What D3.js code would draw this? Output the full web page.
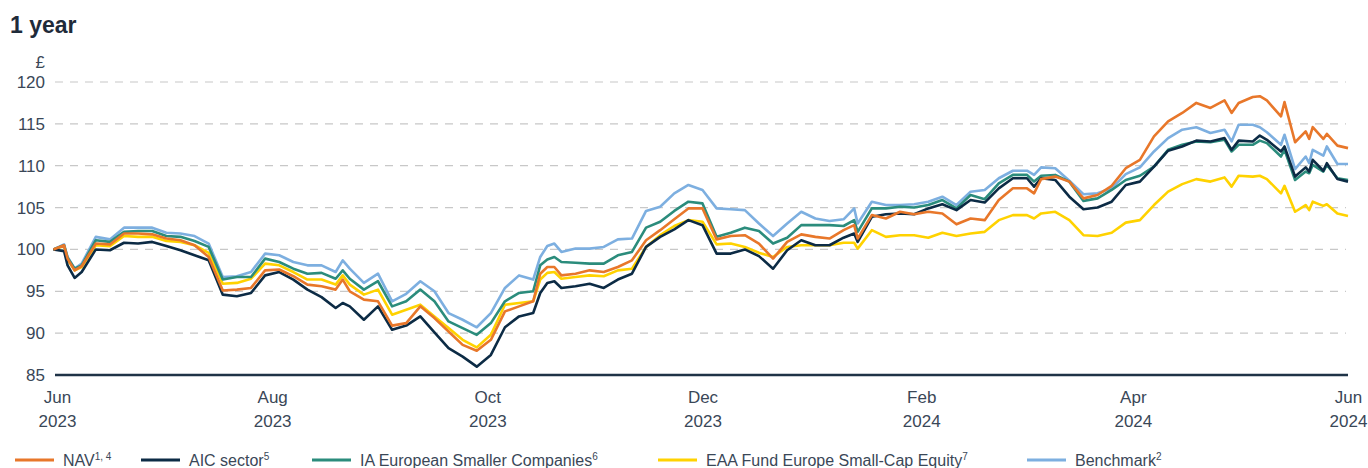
<!DOCTYPE html>
<meta charset="utf-8">
<style>
body { margin: 0; background: #ffffff; }
svg text { font-family: "Liberation Sans", Arial, sans-serif; fill: #3a4757; }
</style>
<script src="https://d3js.org/d3.v7.min.js"></script>
<div id="chart"></div>
<script>
// sample dates
var dates = ["2023-05-31","2023-06-03","2023-06-04","2023-06-06","2023-06-08","2023-06-12","2023-06-16","2023-06-20","2023-06-24","2023-06-28",
  "2023-07-02","2023-07-06","2023-07-10","2023-07-14","2023-07-18","2023-07-22","2023-07-26","2023-07-30","2023-08-03","2023-08-07",
  "2023-08-11","2023-08-15","2023-08-19","2023-08-21","2023-08-23","2023-08-27","2023-08-31","2023-09-04","2023-09-08","2023-09-12",
  "2023-09-16","2023-09-20","2023-09-24","2023-09-28","2023-10-02","2023-10-06","2023-10-10","2023-10-14","2023-10-16","2023-10-18",
  "2023-10-20","2023-10-22","2023-10-26","2023-10-30","2023-11-03","2023-11-07","2023-11-11","2023-11-15","2023-11-19","2023-11-23",
  "2023-11-27","2023-12-01","2023-12-05","2023-12-09","2023-12-13","2023-12-17","2023-12-21","2023-12-25","2023-12-29","2024-01-02",
  "2024-01-06","2024-01-10","2024-01-13","2024-01-14","2024-01-18","2024-01-22","2024-01-26","2024-01-30","2024-02-03","2024-02-07",
  "2024-02-11","2024-02-15","2024-02-19","2024-02-23","2024-02-27","2024-03-02","2024-03-04","2024-03-06","2024-03-10","2024-03-14",
  "2024-03-18","2024-03-22","2024-03-26","2024-03-30","2024-04-03","2024-04-07","2024-04-11","2024-04-15","2024-04-19","2024-04-23",
  "2024-04-27","2024-04-29","2024-05-01","2024-05-05","2024-05-07","2024-05-09","2024-05-13","2024-05-14","2024-05-17","2024-05-20",
  "2024-05-21","2024-05-22","2024-05-25","2024-05-26","2024-05-29","2024-06-01"];

var nav = [100.0,100.5,98.9,97.5,98.0,100.7,100.6,101.9,101.9,101.8,
  101.3,101.1,100.5,99.1,95.1,95.2,95.4,97.5,97.6,96.8,
  95.8,95.6,95.2,96.4,95.0,94.0,93.8,90.9,91.2,93.2,
  91.8,90.2,88.6,87.9,89.2,92.6,93.2,93.8,97.1,97.9,
  97.9,96.9,97.1,97.5,97.3,97.9,98.7,101.1,102.3,103.6,
  104.9,104.9,101.2,101.6,101.7,100.7,98.9,100.9,101.8,101.5,
  101.3,102.3,102.9,101.3,104.1,103.7,104.5,104.2,104.5,104.3,
  103.0,103.7,103.5,105.9,107.3,107.3,106.7,108.4,108.7,108.1,
  106.1,106.5,107.6,109.7,110.7,113.5,115.3,116.3,117.5,116.9,
  117.8,116.3,117.5,118.2,118.3,117.8,115.9,117.6,112.8,114.1,
  113.2,114.6,113.2,113.8,112.4,112.1];

var aicSector = [100.0,99.8,98.1,96.6,97.3,100.0,99.9,100.8,100.7,100.9,
  100.4,99.9,99.3,98.7,94.6,94.4,94.8,96.9,97.3,96.4,
  95.2,94.3,93.0,93.6,93.2,91.6,93.2,90.4,90.9,92.0,
  90.1,88.2,87.2,86.0,87.4,90.7,92.0,92.4,94.8,96.0,
  96.2,95.4,95.6,95.9,95.4,96.4,97.1,100.3,101.5,102.4,
  103.5,102.9,99.5,99.5,100.0,99.2,97.7,99.9,101.1,100.5,
  100.5,101.4,101.9,100.9,103.9,104.2,104.3,104.2,104.9,105.4,
  104.7,105.9,105.6,107.3,108.5,108.5,107.5,108.5,108.3,106.3,
  104.8,105.0,105.7,107.7,108.1,109.9,111.8,112.3,113.0,112.9,
  113.3,111.9,113.0,112.9,113.6,113.1,111.7,112.3,108.7,109.8,
  109.3,110.7,109.4,110.3,108.4,108.1];

var iaEuropean = [100.0,100.5,99.0,97.7,98.1,101.1,100.9,102.1,102.2,102.2,
  101.6,101.5,101.0,100.3,96.4,96.7,96.7,98.9,98.5,97.7,
  97.1,97.2,96.5,97.5,96.5,95.2,96.2,93.2,93.8,95.2,
  93.8,91.4,90.6,89.8,91.2,93.8,94.8,95.0,98.1,98.8,
  99.1,98.5,98.4,98.3,98.3,99.3,99.7,102.6,103.3,104.6,
  105.7,105.5,101.5,102.0,102.6,102.2,100.7,101.4,102.9,102.9,
  102.9,102.8,103.5,102.1,104.9,104.9,105.1,105.0,105.3,105.9,
  104.9,106.5,106.0,107.9,108.9,108.9,108.1,108.8,108.9,108.1,
  105.8,106.1,107.1,108.3,108.8,109.9,111.9,112.5,112.9,112.8,
  113.1,111.7,112.5,112.5,113.0,112.7,111.1,111.9,108.3,109.3,
  109.1,110.1,109.3,110.1,108.5,108.3];

var eaaFund = [100.0,100.4,98.8,97.5,97.9,100.5,100.4,101.6,101.5,101.5,
  101.0,100.9,100.5,99.6,95.9,96.0,96.5,98.3,98.1,97.3,
  96.4,96.4,95.8,96.9,95.8,94.6,95.2,92.2,92.8,93.4,
  92.0,90.6,89.2,88.3,89.8,93.4,93.6,93.8,96.4,97.2,
  97.3,96.5,96.7,96.9,96.8,97.5,97.7,100.3,101.7,102.8,
  103.5,103.3,100.6,100.7,100.3,99.6,99.1,100.3,100.5,100.5,
  100.5,100.8,100.8,100.1,102.3,101.5,101.7,101.7,101.4,102.0,
  101.6,101.9,102.1,103.5,104.1,104.1,103.7,104.3,104.5,103.5,
  101.7,101.6,102.0,103.2,103.5,105.3,106.9,107.8,108.4,108.1,
  108.6,107.5,108.8,108.7,108.8,108.4,106.7,107.6,104.5,105.3,
  104.7,105.7,105.2,105.4,104.3,104.0];

var benchmark = [100.0,100.6,99.1,97.7,98.3,101.5,101.2,102.6,102.6,102.6,
  102.0,101.9,101.6,100.7,96.7,96.8,97.3,99.5,99.3,98.5,
  98.1,98.1,97.3,98.7,97.7,96.0,97.1,93.8,94.7,96.2,
  95.0,92.4,91.6,90.7,92.4,95.4,96.9,96.4,99.1,100.4,
  100.7,99.7,100.1,100.1,100.3,101.2,101.3,104.6,105.1,106.7,
  107.7,107.1,104.9,104.8,104.7,103.1,101.6,103.1,104.5,103.7,
  103.4,103.6,104.9,103.1,105.7,105.3,105.3,105.4,105.7,106.3,
  105.3,106.9,107.1,108.5,109.4,109.4,108.9,109.8,109.7,108.2,
  106.6,106.7,107.3,109.0,109.8,111.7,113.3,114.3,114.6,113.9,
  114.3,112.9,114.9,114.9,114.6,114.0,112.5,113.7,109.6,111.1,
  110.3,111.9,111.2,112.3,110.2,110.2];

var yTicks = [85, 90, 95, 100, 105, 110, 115, 120];
var xTicks = ["2023-06-01","2023-08-01","2023-10-01","2023-12-01","2024-02-01","2024-04-01","2024-06-01"];

// drawing order: last one on top
var series = [
  {name: "Benchmark", sup: "2", values: benchmark, color: "#7dafe0"},
  {name: "EAA Fund Europe Small-Cap Equity", sup: "7", values: eaaFund, color: "#ffd200"},
  {name: "IA European Smaller Companies", sup: "6", values: iaEuropean, color: "#2b8c7c"},
  {name: "AIC sector", sup: "5", values: aicSector, color: "#0c2b45"},
  {name: "NAV", sup: "1, 4", values: nav, color: "#e8772a"}
];
var legendOrder = ["NAV", "AIC sector", "IA European Smaller Companies", "EAA Fund Europe Small-Cap Equity", "Benchmark"];
var legendX = [15, 141, 312, 658, 1027];

var width = 1368, height = 468;
var parse = d3.timeParse("%Y-%m-%d");
var dateObjs = dates.map(parse);

var svg = d3.select("#chart").append("svg")
  .attr("width", width)
  .attr("height", height);

var x = d3.scaleTime()
  .domain([parse("2023-06-01"), parse("2024-06-01")])
  .range([57, 1348]);
var y = d3.scaleLinear()
  .domain([85, 120])
  .range([375, 82]);

// title
svg.append("text")
  .attr("x", 10).attr("y", 33)
  .style("font-size", "23px")
  .style("font-weight", "bold")
  .style("fill", "#1f2b3a")
  .text("1 year");

// grid lines
svg.append("g").selectAll("line")
  .data(yTicks.filter(function(d) { return d > 85; }))
  .enter().append("line")
    .attr("x1", 55).attr("x2", 1346)
    .attr("y1", function(d) { return y(d); })
    .attr("y2", function(d) { return y(d); })
    .attr("stroke", "#c8c8c8")
    .attr("stroke-width", 1.2)
    .attr("stroke-dasharray", "8,7");

// y labels
svg.append("g").selectAll("text")
  .data(yTicks)
  .enter().append("text")
    .attr("x", 45)
    .attr("y", function(d) { return y(d); })
    .attr("dy", "0.35em")
    .attr("text-anchor", "end")
    .style("font-size", "17px")
    .text(function(d) { return d; });
svg.append("text")
  .attr("x", 45).attr("y", 68)
  .attr("text-anchor", "end")
  .style("font-size", "17px")
  .text("£");

// x axis
var xAxis = svg.append("g")
  .attr("transform", "translate(0," + y(85) + ")")
  .call(d3.axisBottom(x)
    .tickValues(xTicks.map(parse))
    .tickSize(0)
    .tickFormat(d3.timeFormat("%b")));
xAxis.select(".domain").remove();
xAxis.selectAll("text")
  .attr("y", 0)
  .attr("dy", 0)
  .style("font-size", "17px")
  .style("font-family", "\"Liberation Sans\", Arial, sans-serif")
  .style("fill", "#3a4757")
  .each(function(d) {
    var t = d3.select(this);
    t.text(null);
    t.append("tspan").attr("x", 0).attr("y", 28).text(d3.timeFormat("%b")(d));
    t.append("tspan").attr("x", 0).attr("y", 52).text(d3.timeFormat("%Y")(d));
  });

// lines
var line = d3.line()
  .x(function(d, i) { return x(dateObjs[i]); })
  .y(function(d) { return y(d); });

svg.append("g").selectAll("path")
  .data(series)
  .enter().append("path")
    .attr("fill", "none")
    .attr("stroke", function(d) { return d.color; })
    .attr("stroke-width", 2.6)
    .attr("stroke-linejoin", "round")
    .attr("d", function(d) { return line(d.values); });

// baseline axis line
svg.append("line")
  .attr("x1", 55).attr("x2", 1348)
  .attr("y1", y(85)).attr("y2", y(85))
  .attr("stroke", "#1f3347")
  .attr("stroke-width", 2.6);

// legend
var legend = svg.append("g").selectAll("g")
  .data(legendOrder.map(function(n) { return series.find(function(s) { return s.name == n; }); }))
  .enter().append("g")
    .attr("transform", function(d, i) { return "translate(" + legendX[i] + ",460)"; });
legend.append("line")
  .attr("x1", 0).attr("x2", 39)
  .attr("stroke", function(d) { return d.color; })
  .attr("stroke-width", 3);
var lt = legend.append("text")
  .attr("x", 48)
  .attr("y", 6)
  .style("font-size", "16px");
lt.append("tspan").text(function(d) { return d.name; });
lt.append("tspan")
  .attr("dy", -6)
  .style("font-size", "10px")
  .text(function(d) { return d.sup; });
</script>
